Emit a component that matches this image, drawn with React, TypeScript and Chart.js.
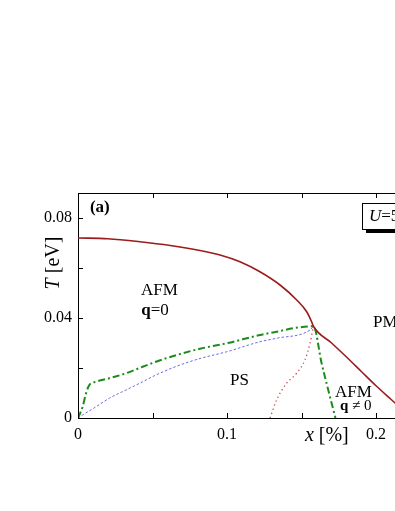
import React, { useEffect, useRef } from 'react';
import { Chart, registerables } from 'chart.js';

Chart.register(...registerables);

const SERIF = '"Liberation Serif", "Times New Roman", serif';

// x axis (doping) and y axis (temperature) tick labels
const xTickValues = [0, 0.1, 0.2, 0.3];
const xTickTexts = ['0', '0.1', '0.2', '0.3'];
const yTickValues = [0, 0.04, 0.08];
const yTickTexts = ['0', '0.04', '0.08'];

// Neel temperature (solid dark red)
const neelX = [0, 0.02, 0.0416, 0.0619, 0.0819, 0.0953, 0.1087, 0.1221, 0.1356, 0.1468, 0.1535, 0.1568, 0.158, 0.17, 0.18, 0.19, 0.2, 0.21, 0.224];
const neelT = [0.072, 0.0717, 0.0705, 0.069, 0.067, 0.0652, 0.0625, 0.0585, 0.0532, 0.0472, 0.0425, 0.0385, 0.0367, 0.0301, 0.0245, 0.0187, 0.0129, 0.0075, 0];

// phase separation boundary (green dash-dot)
const psX = [0, 0.0031, 0.0054, 0.0076, 0.0121, 0.021, 0.0322, 0.0434, 0.0523, 0.0662, 0.0819, 0.0998, 0.1221, 0.1333, 0.1445, 0.158, 0.1635, 0.1691, 0.1728];
const psT = [0, 0.0045, 0.0099, 0.0132, 0.0145, 0.0159, 0.0179, 0.0205, 0.0225, 0.0252, 0.0277, 0.0299, 0.0332, 0.0345, 0.0359, 0.0367, 0.0219, 0.0085, 0];

// blue dashed line
const blueX = [0, 0.0031, 0.0121, 0.021, 0.0322, 0.0434, 0.0523, 0.0662, 0.0819, 0.0998, 0.1221, 0.1333, 0.1557, 0.158];
const blueT = [0, 0.0012, 0.0045, 0.0079, 0.0112, 0.0145, 0.0172, 0.0207, 0.0238, 0.0265, 0.0305, 0.0319, 0.0352, 0.0367];

// red dotted line
const redDotX = [0.1289, 0.1333, 0.14, 0.1467, 0.1523, 0.1557, 0.1575, 0.158];
const redDotT = [0, 0.0072, 0.0139, 0.0179, 0.0232, 0.0299, 0.0352, 0.0367];

const pts = (xs: number[], ys: number[]) => xs.map((x, i) => ({ x, y: ys[i] }));

type Run = { t: string; f: string };

function drawRuns(ctx: CanvasRenderingContext2D, x: number, y: number, runs: Run[], align: 'left' | 'center' = 'left') {
  let total = 0;
  for (const r of runs) {
    ctx.font = r.f;
    total += ctx.measureText(r.t).width;
  }
  let cx = align === 'center' ? x - total / 2 : x;
  for (const r of runs) {
    ctx.font = r.f;
    ctx.textAlign = 'left';
    ctx.fillText(r.t, cx, y);
    cx += ctx.measureText(r.t).width;
  }
}

const framePlugin = {
  id: 'frameAndText',
  afterDraw(chart: any) {
    const { ctx, chartArea, scales } = chart;
    const xs = scales.x;
    const ys = scales.y;
    const { left, right, top, bottom } = chartArea;
    ctx.save();
    ctx.strokeStyle = '#000';
    ctx.lineWidth = 1;
    // frame
    ctx.beginPath();
    ctx.moveTo(left, top + 0.5);
    ctx.lineTo(right, top + 0.5);
    ctx.moveTo(right - 0.5, top);
    ctx.lineTo(right - 0.5, bottom);
    ctx.stroke();
    // inward ticks
    ctx.beginPath();
    for (let k = 0; k <= 6; k++) {
      const v = k * 0.05;
      if (v > xs.max + 1e-9) break;
      const px = Math.round(xs.getPixelForValue(v)) + 0.5;
      ctx.moveTo(px, bottom);
      ctx.lineTo(px, bottom - 5);
      ctx.moveTo(px, top);
      ctx.lineTo(px, top + 5);
    }
    for (let k = 0; k <= 4; k++) {
      const v = k * 0.02;
      const py = Math.round(ys.getPixelForValue(v)) + 0.5;
      ctx.moveTo(left, py);
      ctx.lineTo(left + 5, py);
      ctx.moveTo(right, py);
      ctx.lineTo(right - 5, py);
    }
    ctx.stroke();

    ctx.fillStyle = '#000';
    ctx.textBaseline = 'alphabetic';
    const X = (v: number) => xs.getPixelForValue(v);
    const Y = (v: number) => ys.getPixelForValue(v);
    const n17 = `17px ${SERIF}`;
    const b17 = `bold 17px ${SERIF}`;
    const n15 = `15px ${SERIF}`;
    const b15 = `bold 15px ${SERIF}`;

    // panel label
    ctx.textBaseline = 'middle';
    drawRuns(ctx, X(0.008), Y(0.084), [{ t: '(a)', f: `bold 17px ${SERIF}` }]);
    ctx.textBaseline = 'alphabetic';

    drawRuns(ctx, X(0.0423), Y(0.0492), [{ t: 'AFM', f: n17 }]);
    drawRuns(ctx, X(0.0425), Y(0.0412), [{ t: 'q', f: b17 }, { t: '=0', f: n17 }]);
    drawRuns(ctx, X(0.102), Y(0.0132), [{ t: 'PS', f: n17 }]);
    drawRuns(ctx, X(0.198), Y(0.0364), [{ t: 'PM', f: n17 }]);
    drawRuns(ctx, X(0.1725), Y(0.0084), [{ t: 'AFM', f: n17 }]);
    drawRuns(ctx, X(0.1758), Y(0.0032), [{ t: 'q', f: b15 }, { t: ' \u2260 0', f: n15 }]);

    // axis titles
    drawRuns(ctx, X(0.1523), bottom + 23, [{ t: 'x', f: `italic 20px ${SERIF}` }, { t: ' [%]', f: `20px ${SERIF}` }]);
    ctx.save();
    ctx.translate(left - 24, Y(0.062));
    ctx.rotate(-Math.PI / 2);
    ctx.textBaseline = 'middle';
    drawRuns(ctx, 0, 0, [{ t: 'T', f: `italic 20px ${SERIF}` }, { t: ' [eV]', f: `20px ${SERIF}` }], 'center');
    ctx.restore();

    // parameter box
    const bx = X(0.1906);
    const by = Y(0.086);
    const bh = Y(0.0756) - by;
    const bw = 80;
    ctx.fillStyle = '#000';
    ctx.fillRect(bx + 4, by + bh + 1, bw, 3);
    ctx.fillStyle = '#fff';
    ctx.fillRect(bx, by, bw, bh);
    ctx.strokeStyle = '#000';
    ctx.strokeRect(Math.round(bx) + 0.5, Math.round(by) + 0.5, bw, bh);
    ctx.fillStyle = '#000';
    ctx.textBaseline = 'middle';
    drawRuns(ctx, bx + 7, by + bh / 2 + 1, [{ t: 'U', f: `italic 17px ${SERIF}` }, { t: '=5 eV', f: n17 }]);
    ctx.restore();
  },
};

export default function App() {
  const ref = useRef<HTMLCanvasElement>(null);
  useEffect(() => {
    if (!ref.current) return;
    const chart = new Chart(ref.current, {
      type: 'line',
      data: {
        datasets: [
          {
            label: 'TN',
            data: pts(neelX, neelT),
            borderColor: '#9a1c1c',
            borderWidth: 1.6,
            pointRadius: 0,
            cubicInterpolationMode: 'monotone',
          },
          {
            label: 'PS',
            data: pts(psX, psT),
            borderColor: '#1a8c1a',
            borderWidth: 2,
            borderDash: [7, 3, 2, 3],
            pointRadius: 0,
            cubicInterpolationMode: 'monotone',
          },
          {
            label: 'blue',
            data: pts(blueX, blueT),
            borderColor: '#6a6ae0',
            borderWidth: 1,
            borderDash: [2.5, 2],
            pointRadius: 0,
            cubicInterpolationMode: 'monotone',
          },
          {
            label: 'reddot',
            data: pts(redDotX, redDotT),
            borderColor: '#d04848',
            borderWidth: 1.3,
            borderDash: [1.3, 3],
            pointRadius: 0,
            cubicInterpolationMode: 'monotone',
          },
        ],
      },
      options: {
        animation: false,
        responsive: false,
        devicePixelRatio: 1,
        layout: { padding: { top: 185, right: 83, left: 0, bottom: 0 } },
        plugins: { legend: { display: false }, tooltip: { enabled: false } },
        scales: {
          x: {
            type: 'linear',
            min: 0,
            max: 0.3,
            afterFit: (s: any) => { s.height = 85; },
            grid: { display: false, drawTicks: false },
            border: { display: true, color: '#000', width: 1 },
            ticks: {
              stepSize: 0.1,
              autoSkip: false,
              maxRotation: 0,
              padding: 7,
              color: '#000',
              font: { family: SERIF, size: 16 },
              callback: (v: any) => {
                const i = xTickValues.findIndex((t) => Math.abs(t - v) < 1e-6);
                return i >= 0 ? xTickTexts[i] : '';
              },
            },
          },
          y: {
            type: 'linear',
            min: 0,
            max: 0.09,
            afterFit: (s: any) => { s.width = 70; },
            grid: { display: false, drawTicks: false },
            border: { display: true, color: '#000', width: 1 },
            ticks: {
              stepSize: 0.04,
              autoSkip: false,
              padding: 6,
              color: '#000',
              font: { family: SERIF, size: 16 },
              callback: (v: any) => {
                const i = yTickValues.findIndex((t) => Math.abs(t - v) < 1e-6);
                return i >= 0 ? yTickTexts[i] : '';
              },
            },
          },
        },
      },
      plugins: [framePlugin],
    } as any);
    return () => chart.destroy();
  }, []);
  return (
    <div style={{ position: 'fixed', left: 0, top: 0, width: 395, height: 511, overflow: 'hidden', background: '#fff' }}>
      <canvas
        ref={ref}
        width={600}
        height={495}
        style={{ display: 'block', position: 'absolute', left: 8, top: 8 }}
      />
    </div>
  );
}
